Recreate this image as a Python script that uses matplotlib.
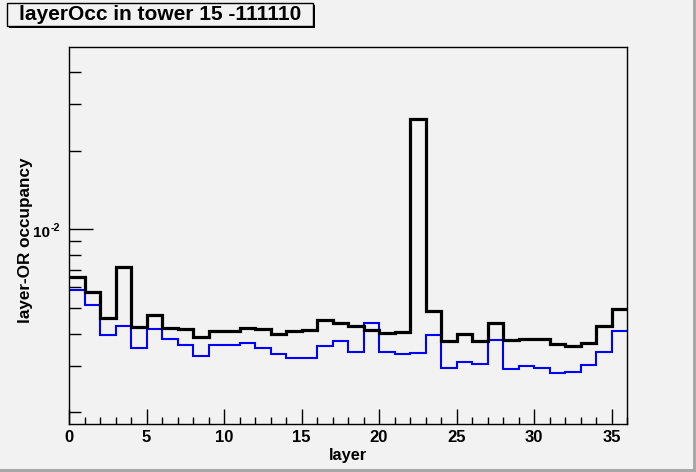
import matplotlib
matplotlib.use("Agg")
import matplotlib.pyplot as plt
from matplotlib.patches import Rectangle
import numpy as np

plt.rcParams['font.family'] = ['Liberation Sans', 'DejaVu Sans']
plt.rcParams['font.weight'] = 'bold'

title = "layerOcc in tower 15 -111110"
xlabel = "layer"
ylabel = "layer-OR occupancy"

layer_edges = list(range(0, 37))
occ_black = [6.56e-3, 5.75e-3, 4.57e-3, 7.16e-3, 4.23e-3, 4.70e-3, 4.19e-3, 4.15e-3,
             3.87e-3, 4.09e-3, 4.09e-3, 4.19e-3, 4.15e-3, 3.98e-3, 4.09e-3, 4.13e-3,
             4.50e-3, 4.39e-3, 4.27e-3, 4.12e-3, 4.01e-3, 4.06e-3, 2.64e-2, 4.88e-3,
             3.75e-3, 3.99e-3, 3.75e-3, 4.39e-3, 3.78e-3, 3.81e-3, 3.81e-3, 3.64e-3,
             3.58e-3, 3.67e-3, 4.27e-3, 4.95e-3]
occ_blue = [5.87e-3, 5.14e-3, 3.95e-3, 4.27e-3, 3.53e-3, 4.17e-3, 3.81e-3, 3.62e-3,
            3.29e-3, 3.62e-3, 3.62e-3, 3.69e-3, 3.53e-3, 3.35e-3, 3.24e-3, 3.24e-3,
            3.59e-3, 3.76e-3, 3.41e-3, 4.40e-3, 3.41e-3, 3.33e-3, 3.38e-3, 3.95e-3,
            2.95e-3, 3.11e-3, 3.07e-3, 3.77e-3, 2.92e-3, 3.01e-3, 2.96e-3, 2.84e-3,
            2.86e-3, 3.04e-3, 3.40e-3, 4.08e-3]

W, H = 696, 472
bg = '#f2f2f2'
fig = plt.figure(figsize=(W / 100, H / 100), dpi=100, facecolor=bg)

def fx(px):
    return px / W

def fy(py):
    return 1 - py / H

# canvas borders (ROOT bevel)
fig.patches.append(Rectangle((0, 0), 1, 3 / H, transform=fig.transFigure,
                             facecolor='#a8a8a8', edgecolor='none', zorder=0))
fig.patches.append(Rectangle((1 - 3 / W, 0), 3 / W, 1, transform=fig.transFigure,
                             facecolor='#a8a8a8', edgecolor='none', zorder=0))

left, right, top, bottom = 69, 627, 46.5, 423.5
ax = fig.add_axes([fx(left), fy(bottom), (right - left) / W, (bottom - top) / H])
ax.set_facecolor(bg)

ax.stairs(occ_blue, layer_edges, baseline=None, color='#0000ff', linewidth=1.5)
ax.stairs(occ_black, layer_edges, baseline=None, color='black', linewidth=2.3)

ax.set_yscale('log')
ax.set_xlim(0, 36)
ax.set_ylim(1.815e-3, 0.0499)

ax.set_xticks([0, 5, 10, 15, 20, 25, 30, 35])
ax.set_xticks(range(0, 37), minor=True)
ax.set_yticks([0.01])
ax.set_yticklabels([''])
ax.set_yticks([2e-3, 3e-3, 4e-3, 5e-3, 6e-3, 7e-3, 8e-3, 9e-3, 2e-2, 3e-2, 4e-2], minor=True)
ax.yaxis.set_minor_formatter(matplotlib.ticker.NullFormatter())

ax.tick_params(axis='x', which='major', direction='in', length=10.5, width=1, top=False,
               labelsize=12, pad=4.5)
ax.tick_params(axis='x', which='minor', direction='in', length=5, width=1, top=False)
ax.tick_params(axis='y', which='major', direction='in', length=17, width=1, right=False)
ax.tick_params(axis='y', which='minor', direction='in', length=8.5, width=1, right=False)
for lab in ax.get_xticklabels():
    lab.set_fontweight('bold')

for s in ax.spines.values():
    s.set_linewidth(1.0)

# 10^-2 tick label drawn as text
fig.text(fx(49.5), fy(237.3), "10", fontsize=11, fontweight='bold', ha='right', va='baseline')
fig.text(fx(50.5), fy(230.8), "-2", fontsize=7.8, fontweight='bold', ha='left', va='baseline')

ax.set_xlabel(xlabel, fontsize=11.8, fontweight='bold')
ax.set_ylabel(ylabel, fontsize=12.3, fontweight='bold')
ax.xaxis.set_label_coords(0.5, -(455.5 - bottom) / (bottom - top))
ax.yaxis.set_label_coords(-(left - 26) / (right - left), (bottom - 240.5) / (bottom - top))
ax.yaxis.label.set_va('center')
ax.xaxis.label.set_va('center')

# title box with shadow
bx0, by0, bx1, by1 = 7, 3, 313, 26
fig.patches.append(Rectangle((fx(bx0 + 2), fy(by1 + 2)), (bx1 - bx0) / W, (by1 - by0) / H,
                             transform=fig.transFigure, facecolor='black', edgecolor='none', zorder=1))
fig.patches.append(Rectangle((fx(bx0), fy(by1)), (bx1 - bx0) / W, (by1 - by0) / H,
                             transform=fig.transFigure, facecolor=bg, edgecolor='black',
                             linewidth=1.0, zorder=2))
fig.text(fx((bx0 + bx1) / 2), fy((by0 + by1) / 2), title, fontsize=15, fontweight='bold',
         ha='center', va='center', zorder=3)

fig.savefig('out.png', dpi=100, facecolor=bg)
